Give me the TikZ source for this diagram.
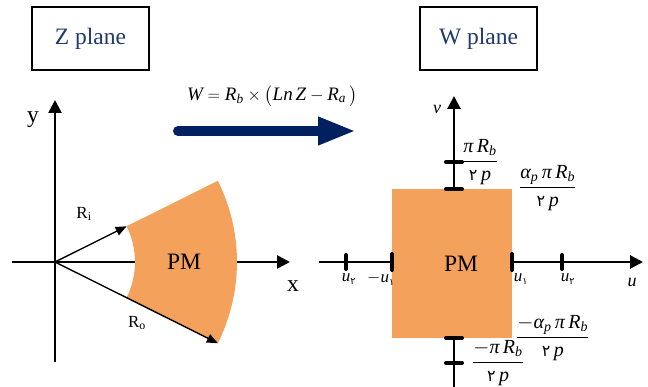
\documentclass[tikz,border=0pt]{standalone}
\usepackage{amsmath}
\usepackage{fontspec}
\setmainfont{Liberation Serif}
\newfontfamily\arabicfont[Script=Arabic]{DejaVu Sans}
\usetikzlibrary{arrows.meta}
\definecolor{pmorange}{RGB}{244,161,91}
\definecolor{titlenavy}{RGB}{31,56,110}
\definecolor{arrownavy}{RGB}{0,32,96}
\newcommand\ai[1]{\textit{#1}}
\newcommand\ad[1]{\text{\scalebox{0.8}{\arabicfont #1}}}
\begin{document}
\begin{tikzpicture}[x=1pt,y=-1pt,
  titlebox/.style={draw=black,line width=1.2pt,minimum width=117pt,minimum height=63pt,inner sep=0pt,
    text=titlenavy,font=\fontsize{23.5}{26}\selectfont},
  axis/.style={line width=2.6pt,-{Triangle[length=13pt,width=13pt]}},
  radius arrow/.style={line width=1.4pt,-{Triangle[length=11pt,width=9pt]}},
  tick/.style={line width=4pt,line cap=round},
  big/.style={font=\fontsize{23.5}{26}\selectfont},
  lab/.style={font=\fontsize{17}{19}\selectfont,inner sep=0pt},
  frac/.style={font=\fontsize{20}{22}\selectfont,inner sep=0pt,anchor=west}]
\useasboundingbox (0,0) rectangle (648,387);

% title boxes
\node[titlebox] (zt) at (90.5,38.5) {Z plane};
\node[titlebox] (wt) at (478.5,38.5) {W plane};

% formula and mapping arrow
\node[font=\fontsize{19}{22}\selectfont,inner sep=0pt] (formula) at (272,96)
  {$\ai{W}=\ai{R}_{\ai{b}}\times\bigl(\ai{Ln}\,\ai{Z}-\ai{R}_{\ai{a}}\,\bigr)$};
\coordinate (ma) at (178,131);
\coordinate (mb) at (356,131);
\draw[arrownavy,line width=10pt,line cap=round,-{Triangle[length=38pt,width=26pt]}] (ma) -- (mb);

% ---- Z plane ----
\coordinate (O) at (55,262);
\coordinate (ytop) at (55,100);
\coordinate (ybot) at (55,362);
\coordinate (xl) at (12,262);
\coordinate (xr) at (290,262);
\draw[axis] (ybot) -- (ytop);
\draw[axis] (xl) -- (xr);

\coordinate (ti) at ({55+80*cos(26.5)},{262-80*sin(26.5)});
\coordinate (to) at ({55+182*cos(26.5)},{262-182*sin(26.5)});
\coordinate (bo) at ({55+182*cos(26.5)},{262+182*sin(26.5)});
\fill[pmorange] (ti) -- (to) arc[start angle=-26.5,end angle=26.5,radius=182]
  -- ({55+80*cos(26.5)},{262+80*sin(26.5)}) arc[start angle=26.5,end angle=-26.5,radius=80] -- cycle;

\draw[radius arrow] (O) -- (ti);
\draw[radius arrow] (O) -- (bo);

\node[big] (pm1) at (184,262) {PM};
\node[big] (xlab) at (293,286) {x};
\node[big] (ylab) at (33,120) {y};
\node[lab] (ri) at (84,214) {R\textsubscript{i}};
\node[lab] (ro) at (137,323) {R\textsubscript{o}};

% ---- W plane ----
\coordinate (vtop) at (454,96);
\coordinate (vbot) at (454,387);
\coordinate (ul) at (319,262);
\coordinate (ur) at (643,262);
\draw[axis,line width=2.8pt] (vbot) -- (vtop);
\draw[axis,line width=2.8pt] (ul) -- (ur);

\node[fill=pmorange,minimum width=120pt,minimum height=149pt,inner sep=0pt] (rect) at (452,263.5) {};
\node[big] (pm2) at (461,264) {PM};

% ticks
\draw[tick] (446,162) -- (462,162);
\draw[tick] (446,189) -- (462,189);
\draw[tick] (446,338) -- (462,338);
\draw[tick] (446,363) -- (462,363);
\draw[tick] (346,255) -- (346,269);
\draw[tick] (392,254) -- (392,270);
\draw[tick] (512,254) -- (512,270);
\draw[tick] (562,255) -- (562,269);

% axis labels
\node[lab] (u2l) at (349,279) {$\ai{u}_{\ad{٢}}$};
\node[lab] (u1l) at (381,279) {$-\ai{u}_{\ad{١}}$};
\node[lab] (u1r) at (521,279) {$\ai{u}_{\ad{١}}$};
\node[lab] (u2r) at (568,279) {$\ai{u}_{\ad{٢}}$};
\node[lab,font=\fontsize{18}{20}\selectfont] (ulab) at (632,282) {$\ai{u}$};
\node[lab,font=\fontsize{18}{20}\selectfont] (vlab) at (437,109) {$\ai{v}$};

% fractions
\node[frac] (f1) at (462,162) {$\dfrac{\ai{π}\,\ai{R}_{\ai{b}}}{\ad{٢}\,\ai{p}}$};
\node[frac] (f2) at (519,188) {$\dfrac{\ai{α}_{\ai{p}}\,\ai{π}\,\ai{R}_{\ai{b}}}{\ad{٢}\,\ai{p}}$};
\node[frac] (f3) at (516,338) {$\dfrac{-\ai{α}_{\ai{p}}\,\ai{π}\,\ai{R}_{\ai{b}}}{\ad{٢}\,\ai{p}}$};
\node[frac] (f4) at (472,363) {$\dfrac{-\ai{π}\,\ai{R}_{\ai{b}}}{\ad{٢}\,\ai{p}}$};
\end{tikzpicture}
\end{document}
